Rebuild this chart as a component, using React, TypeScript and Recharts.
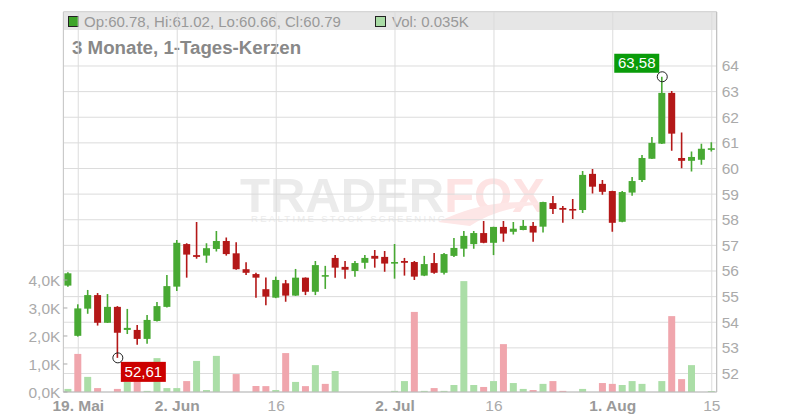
import React from "react";
import {
  ComposedChart,
  Bar,
  XAxis,
  YAxis,
  CartesianGrid,
  Cell,
  ReferenceDot,
} from "recharts";

const GREEN = "#48a933";
const RED = "#b41818";
const VOL_GREEN = "#abdea7";
const VOL_RED = "#f0a6ad";
const FONT = "'Liberation Sans', Arial, sans-serif";

const dates = [
  "16.05", "19.05", "20.05", "21.05", "22.05", "23.05", "26.05", "27.05", "28.05", "29.05", "30.05",
  "02.06", "03.06", "04.06", "05.06", "06.06", "09.06", "10.06", "11.06", "12.06", "13.06",
  "16.06", "17.06", "18.06", "19.06", "20.06", "23.06", "24.06", "25.06", "26.06", "27.06", "30.06",
  "01.07", "02.07", "03.07", "04.07", "07.07", "08.07", "09.07", "10.07", "11.07", "14.07", "15.07",
  "16.07", "17.07", "18.07", "21.07", "22.07", "23.07", "24.07", "25.07", "28.07", "29.07", "30.07", "31.07",
  "01.08", "04.08", "05.08", "06.08", "07.08", "08.08", "11.08", "12.08", "13.08", "14.08", "15.08",
];

const opens = [
  55.43, 53.47, 54.53, 55.06, 53.98, 54.6, 53.7, 53.7, 53.35, 54.05, 54.6,
  55.39, 57.05, 56.62, 56.6, 56.86, 57.17, 56.69, 56.07, 55.88, 55.29,
  54.96, 55.52, 55.04, 55.74, 55.19, 55.78, 56.51, 56.16, 56.0, 56.32, 56.59,
  56.55, 56.29, 56.39, 56.35, 55.82, 56.31, 55.93, 56.59, 56.87, 57.05, 57.48,
  57.1, 57.72, 57.53, 57.6, 57.76, 57.73, 58.65, 58.46, 58.42, 58.38, 59.79, 59.4,
  59.12, 57.92, 59.06, 59.55, 60.38, 60.97, 62.95, 60.41, 60.3, 60.34, 60.78,
];
const highs = [
  55.95, 54.7, 55.26, 55.14, 55.1, 54.63, 54.52, 53.89, 54.28, 54.79, 55.84,
  57.21, 57.08, 57.91, 57.08, 57.56, 57.31, 57.12, 56.34, 55.93, 55.75,
  55.78, 55.65, 56.08, 55.75, 56.39, 56.2, 56.62, 56.39, 56.39, 56.62, 56.82,
  56.78, 57.05, 56.51, 56.39, 56.59, 56.7, 56.7, 57.29, 57.56, 57.56, 57.95,
  57.73, 57.95, 57.91, 57.99, 57.91, 58.7, 58.93, 58.54, 58.81, 59.9, 59.98, 59.55,
  59.13, 59.12, 59.67, 60.53, 61.23, 63.58, 63.02, 61.4, 60.66, 60.97, 61.02,
];
const lows = [
  55.39, 53.44, 54.33, 53.87, 53.97, 52.61, 53.54, 53.12, 53.16, 54.03, 54.58,
  55.22, 55.74, 56.48, 56.32, 56.76, 56.6, 56.05, 55.84, 54.96, 54.66,
  54.94, 54.8, 55.03, 55.06, 55.06, 55.3, 55.74, 55.7, 55.78, 56.09, 56.13,
  55.97, 55.7, 55.82, 55.65, 55.8, 55.89, 55.86, 56.55, 56.56, 56.87, 57.08,
  56.62, 57.14, 57.42, 57.59, 57.14, 57.5, 58.22, 57.88, 58.03, 58.26, 59.02, 58.98,
  57.53, 57.9, 58.94, 59.47, 60.37, 60.96, 60.69, 60.01, 59.88, 60.15, 60.66,
];
const closes = [
  55.91, 54.54, 55.06, 53.98, 54.6, 53.59, 53.78, 53.35, 54.09, 54.63, 55.41,
  57.1, 56.64, 56.55, 56.89, 57.17, 56.66, 56.07, 55.93, 55.74, 55.0,
  55.65, 55.04, 55.74, 55.19, 56.23, 55.84, 56.13, 56.05, 56.31, 56.51, 56.48,
  56.29, 56.35, 56.32, 55.78, 56.27, 55.93, 56.66, 56.9, 57.37, 57.48, 57.1,
  57.72, 57.46, 57.65, 57.76, 57.5, 58.69, 58.42, 58.39, 58.38, 59.75, 59.29, 59.09,
  57.88, 59.08, 59.51, 60.41, 61.0, 62.95, 61.36, 60.3, 60.45, 60.77, 60.79,
];

// volume in thousands
const volumes = [
  0.11, 1.36, 0.54, 0.14, 0, 0.11, 0.36, 0.6, 0.04, 1.21, 0.14,
  0.14, 0.39, 1.11, 0.07, 1.29, 0, 0.64, 0, 0.21, 0.21,
  0.07, 1.39, 0.36, 0.21, 0.96, 0.29, 0.75, 0, 0, 0, 0,
  0, 0.04, 0.39, 2.86, 0.04, 0.14, 0.04, 0.25, 3.96, 0.25, 0.18,
  0.39, 1.71, 0.32, 0.11, 0.07, 0.29, 0.39, 0.04, 0, 0.11, 0, 0.32,
  0.29, 0.25, 0.39, 0.29, 0, 0.39, 2.71, 0.46, 0.96, 0, 0.035,
];
const volUp = [
  1, 0, 1, 0, 0, 0, 1, 0, 1, 1, 1,
  1, 0, 1, 1, 1, 0, 0, 0, 0, 0,
  1, 0, 1, 0, 1, 0, 1, 0, 0, 0, 0,
  0, 1, 1, 0, 1, 0, 1, 1, 1, 1, 0,
  1, 0, 1, 1, 0, 1, 0, 0, 0, 1, 0, 0,
  0, 1, 1, 1, 0, 1, 0, 0, 1, 0, 1,
];

const tickDates = ["19.05", "02.06", "16.06", "02.07", "16.07", "01.08", "15.08"];
const tickLabels = ["19. Mai", "2. Jun", "16", "2. Jul", "16", "1. Aug", "15"];
const priceTicks = [52, 53, 54, 55, 56, 57, 58, 59, 60, 61, 62, 63, 64];
const volTicks = [0, 1, 2, 3, 4];

const rows = dates.map((date, i) => ({
  date,
  open: opens[i],
  high: highs[i],
  low: lows[i],
  close: closes[i],
  vol: volumes[i],
}));

const last = rows.length - 1;
const maxIdx = highs.indexOf(Math.max(...highs));
const minIdx = lows.indexOf(Math.min(...lows));
const fmt = (v: number) => v.toFixed(2).replace(".", ",");

function Candle(props: any) {
  const { x, y, width, height, payload } = props;
  if (!payload) return null;
  const { open, close, high, low } = payload;
  const top = Math.min(y, y + height);
  const h = Math.abs(height);
  const ratio = high === low ? 0 : h / (high - low);
  const yOf = (v: number) => top + (high - v) * ratio;
  const color = close >= open ? GREEN : RED;
  const cx = x + width / 2;
  const bodyTop = yOf(Math.max(open, close));
  const bodyH = Math.max(1.6, Math.abs(yOf(open) - yOf(close)));
  return (
    <g>
      <line x1={cx} x2={cx} y1={yOf(high)} y2={yOf(low)} stroke={color} strokeWidth={1.6} />
      <rect x={x} y={bodyTop} width={width} height={bodyH} fill={color} />
    </g>
  );
}

function XTick(props: any) {
  const { x, y, payload } = props;
  const label = tickLabels[tickDates.indexOf(payload.value)];
  const bold = label.includes(".");
  return (
    <text
      x={x}
      y={y + 18.5}
      textAnchor="middle"
      fontSize={15.5}
      fontFamily={FONT}
      fontWeight={bold ? 700 : 400}
      fill={bold ? "#9a9a9a" : "#aaa"}
    >
      {label}
    </text>
  );
}

function VolTick(props: any) {
  const { x, y, payload } = props;
  return (
    <g>
      <text x={x} y={y} dy="0.36em" textAnchor="end" fontSize={15.5} fontFamily={FONT} fill="#aaa">
        {payload.value.toFixed(1).replace(".", ",") + "K"}
      </text>
      <line x1={x + 3} x2={x + 7} y1={y} y2={y} stroke="#aaa" />
    </g>
  );
}

function MaxMarker(props: any) {
  const { cx, cy } = props;
  return (
    <g>
      <circle cx={cx} cy={cy} r={5} fill="none" stroke="#222" />
      <rect x={cx - 48} y={cy - 23} width={45} height={19} fill="#0a9c0a" />
      <text x={cx - 25.5} y={cy - 8.5} textAnchor="middle" fontSize={15} fontFamily={FONT} fill="#fff">
        {fmt(highs[maxIdx])}
      </text>
    </g>
  );
}

function MinMarker(props: any) {
  const { cx, cy } = props;
  return (
    <g>
      <circle cx={cx} cy={cy} r={5} fill="none" stroke="#222" />
      <rect x={cx + 3} y={cy + 4} width={45} height={20} fill="#cc0000" />
      <text x={cx + 25.5} y={cy + 19.5} textAnchor="middle" fontSize={15} fontFamily={FONT} fill="#fff">
        {fmt(lows[minIdx])}
      </text>
    </g>
  );
}

export default function App() {
  const header = `Op:${opens[last].toFixed(2)}, Hi:${highs[last].toFixed(2)}, Lo:${lows[last].toFixed(
    2
  )}, Cl:${closes[last].toFixed(2)}`;
  return (
    <div style={{ position: "absolute", left: 0, top: 0, width: 800, height: 420, background: "#fff" }}>
      <svg width={800} height={420} style={{ position: "absolute", left: 0, top: 0 }}>
        <rect x={63.4} y={12} width={653.3} height={18} fill="#e6e6e6" />
        <line x1={63.4} x2={716.7} y1={11.5} y2={11.5} stroke="#cfcfcf" />
        <rect x={68.5} y={16.5} width={10} height={10} fill="#3ea52a" stroke="#222" />
        <text x={84} y={27} fontSize={15} fontFamily={FONT} fill="#999">
          {header}
        </text>
        <rect x={375.5} y={16.5} width={10} height={10} fill="#a9dca5" stroke="#222" />
        <text x={392} y={27} fontSize={15} fontFamily={FONT} fill="#999">
          {`Vol: ${volumes[last].toFixed(3)}K`}
        </text>
        <text x={72} y={54} fontSize={18.7} fontWeight={700} fontFamily={FONT} fill="#888">
          3 Monate, 1-Tages-Kerzen
        </text>
        {/* watermark */}
        <text x={240} y={212} fontSize={49} fontWeight={700} fontFamily={FONT}>
          <tspan fill="#ebebeb">TRADER</tspan>
          <tspan fill="#fde3e3">FOX</tspan>
        </text>
        <text x={251} y={222} fontSize={9.5} letterSpacing={2.3} fontFamily={FONT} fill="#ececec">
          REALTIME STOCK SCREENING
        </text>
        <path d="M438 222 Q490 196 548 204 Q500 206 470 226 Z" fill="#fde6e6" />
      </svg>
      <div style={{ position: "absolute", left: 0, top: 0 }}>
        <ComposedChart
          width={800}
          height={420}
          data={rows}
          margin={{ top: 12, right: 0, bottom: 0, left: 0 }}
        >
          <XAxis
            xAxisId="c"
            dataKey="date"
            type="category"
            height={28}
            ticks={tickDates}
            interval={0}
            tick={<XTick />}
            tickLine={false}
            tickSize={0}
            tickMargin={0}
            axisLine={{ stroke: "#bbb" }}
            padding={{ left: 0, right: 0 }}
          />
          <XAxis xAxisId="v" dataKey="date" type="category" hide />
          <YAxis
            yAxisId="price"
            orientation="right"
            width={83.3}
            domain={[51.278, 66.107]}
            allowDataOverflow
            ticks={priceTicks}
            interval={0}
            tickLine={false}
            tickSize={0}
            tickMargin={5}
            axisLine={{ stroke: "#bbb" }}
            tick={{ fill: "#aaa", fontSize: 15.5, fontFamily: FONT }}
          />
          <YAxis
            yAxisId="vol"
            orientation="left"
            width={63.4}
            domain={[0, 13.571]}
            allowDataOverflow
            ticks={volTicks}
            interval={0}
            tickLine={false}
            tickSize={0}
            tickMargin={3}
            axisLine={{ stroke: "#c8c8c8" }}
            tick={<VolTick />}
          />
          <CartesianGrid xAxisId="c" yAxisId="price" stroke="#dcdcdc" />
          <Bar xAxisId="v" yAxisId="vol" dataKey="vol" barSize={7} isAnimationActive={false}>
            {rows.map((r, i) => (
              <Cell key={r.date} fill={volUp[i] ? VOL_GREEN : VOL_RED} />
            ))}
          </Bar>
          <Bar
            xAxisId="c"
            yAxisId="price"
            dataKey={(d: any) => [d.low, d.high]}
            barSize={7}
            shape={<Candle />}
            isAnimationActive={false}
          />
          <ReferenceDot
            xAxisId="c"
            yAxisId="price"
            x={dates[maxIdx]}
            y={highs[maxIdx]}
            r={5}
            shape={(p: any) => <MaxMarker {...p} />}
          />
          <ReferenceDot
            xAxisId="c"
            yAxisId="price"
            x={dates[minIdx]}
            y={lows[minIdx]}
            r={5}
            shape={(p: any) => <MinMarker {...p} />}
          />
        </ComposedChart>
      </div>
    </div>
  );
}
